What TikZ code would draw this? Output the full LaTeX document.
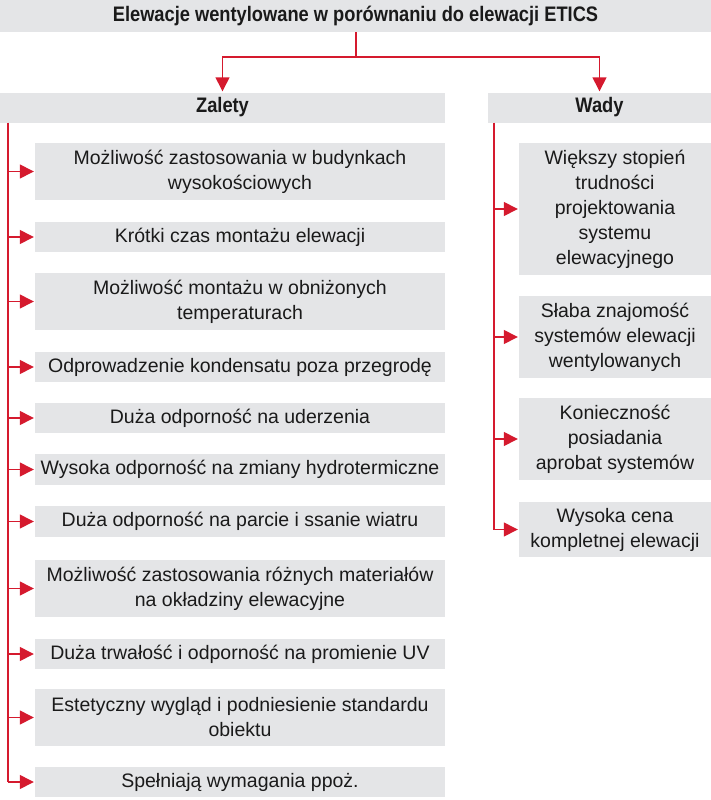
\documentclass[tikz,border=0pt]{standalone}
\usepackage{fontspec}
\setmainfont{Liberation Sans}[BoldFeatures={FakeStretch=0.87}]
\usetikzlibrary{arrows.meta}
\definecolor{boxgray}{HTML}{E4E5E7}
\definecolor{ared}{HTML}{D51A2E}
\definecolor{txt}{HTML}{1A1A1A}
\begin{document}
\begin{tikzpicture}[x=1pt,y=-1pt,
  gbox/.style={fill=boxgray, inner sep=0pt, align=center, text=txt,
    font=\fontsize{19.5}{25}\selectfont},
  hbox/.style={gbox, font=\fontsize{21}{25}\selectfont\bfseries},
  lbox/.style={gbox, minimum width=410},
  rbox/.style={gbox, minimum width=192},
  conn/.style={draw=ared, line width=1.4pt},
  arr/.style={conn, -{Triangle[length=14pt,width=14pt]}, shorten >=1pt}]
\useasboundingbox (0,0) rectangle (711,800);
% headers
\node[hbox, minimum width=711, minimum height=32] (title) at (355.5,16) {Elewacje wentylowane w porównaniu do elewacji ETICS};
\node[hbox, minimum width=445, minimum height=30] (zal) at (222.5,107.5) {Zalety};
\node[hbox, minimum width=223, minimum height=30] (wad) at (599.5,107.5) {Wady};
% left boxes
\node[lbox, minimum height=57] (l1) at (240,171.5) {Możliwość zastosowania w budynkach\\wysokościowych};
\node[lbox, minimum height=30] (l2) at (240,237) {Krótki czas montażu elewacji};
\node[lbox, minimum height=57] (l3) at (240,301.5) {Możliwość montażu w obniżonych\\temperaturach};
\node[lbox, minimum height=30] (l4) at (240,367) {Odprowadzenie kondensatu poza przegrodę};
\node[lbox, minimum height=30] (l5) at (240,418) {Duża odporność na uderzenia};
\node[lbox, minimum height=31] (l6) at (240,469.5) {Wysoka odporność na zmiany hydrotermiczne};
\node[lbox, minimum height=31] (l7) at (240,521.5) {Duża odporność na parcie i ssanie wiatru};
\node[lbox, minimum height=57] (l8) at (240,588.5) {Możliwość zastosowania różnych materiałów\\na okładziny elewacyjne};
\node[lbox, minimum height=30] (l9) at (240,654) {Duża trwałość i odporność na promienie UV};
\node[lbox, minimum height=57] (l10) at (240,717.5) {Estetyczny wygląd i podniesienie standardu\\obiektu};
\node[lbox, minimum height=30] (l11) at (240,782) {Spełniają wymagania ppoż.};
% right boxes
\node[rbox, minimum height=132] (r1) at (615,209) {Większy stopień\\trudności\\projektowania\\systemu\\elewacyjnego};
\node[rbox, minimum height=82] (r2) at (615,337) {Słaba znajomość\\systemów elewacji\\wentylowanych};
\node[rbox, minimum height=82] (r3) at (615,439) {Konieczność\\posiadania\\aprobat systemów};
\node[rbox, minimum height=55] (r4) at (615,529.5) {Wysoka cena\\kompletnej elewacji};
% top connectors
\coordinate (tj) at (356,57);
\draw[conn] (title.south -| tj) -- (tj);
\draw[arr] (tj) -| (zal.north);
\draw[arr] (tj) -| (wad.north);
% left spine
\coordinate (lx) at (8,122.5);
\draw[conn] (lx) -- (lx |- l11.west);
\foreach \n in {l1,l2,l3,l4,l5,l6,l7,l8,l9,l10}
  \draw[arr] (lx |- \n.west) -- (\n.west);
\draw[arr] (lx |- l11.west) -- (l11.west);
% right spine
\coordinate (rx) at (494,122.5);
\draw[conn] (rx) -- (rx |- r4.west);
\foreach \n in {r1,r2,r3,r4}
  \draw[arr] (rx |- \n.west) -- (\n.west);
\end{tikzpicture}
\end{document}
